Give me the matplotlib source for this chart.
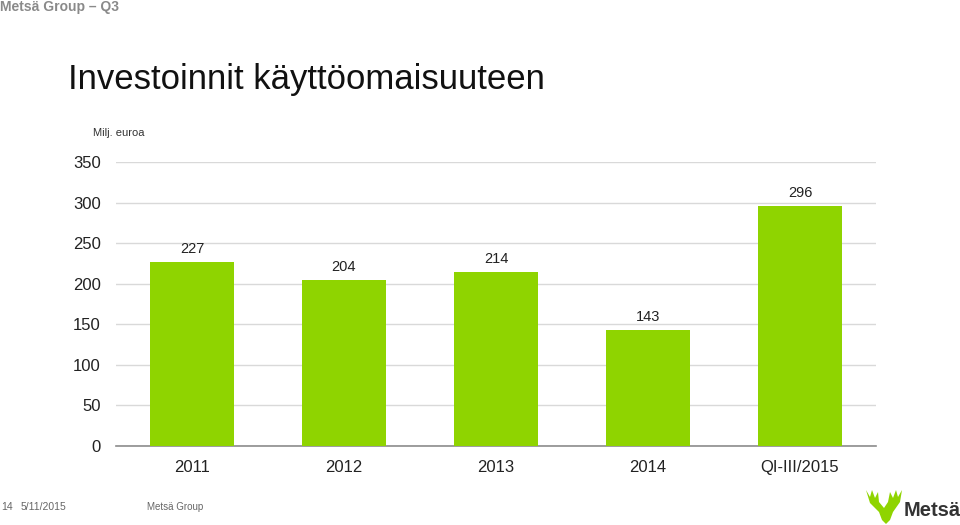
import matplotlib
matplotlib.use("Agg")
import matplotlib.pyplot as plt
from matplotlib.patches import Polygon

plt.rcParams['font.family'] = ['Liberation Sans', 'DejaVu Sans']

categories = ["2011", "2012", "2013", "2014", "QI-III/2015"]
values = [227, 204, 214, 143, 296]
yticks = [0, 50, 100, 150, 200, 250, 300, 350]

bar_color = "#8fd400"

fig = plt.figure(figsize=(9.6, 5.25), dpi=100)
ax = fig.add_axes([116/960, 1-446/525, 760/960, 284/525])

x = list(range(len(categories)))
ax.bar(x, values, width=0.55, color=bar_color, zorder=3)
ax.set_xlim(-0.5, len(categories)-0.5)
ax.set_ylim(0, 350)
ax.set_yticks(yticks)
ax.set_yticklabels([str(v) for v in yticks], fontsize=12, color="#222222")
ax.set_xticks(x)
ax.set_xticklabels(categories, fontsize=12, color="#222222")
ax.tick_params(axis='both', length=0)
ax.tick_params(axis='y', pad=11)
ax.tick_params(axis='x', pad=10)
ax.grid(axis='y', color="#d9d9d9", linewidth=1, zorder=0)
for s in ['top', 'right', 'left']:
    ax.spines[s].set_visible(False)
ax.spines['bottom'].set_color("#8c8c8c")
ax.spines['bottom'].set_linewidth(1.2)

for xi, v in zip(x, values):
    ax.annotate(str(v), (xi, v), xytext=(0, 4.5), textcoords='offset points',
                ha='center', va='bottom', fontsize=10.5, color="#222222")

# Texts
fig.text(68/960, 1-80/525, "Investoinnit käyttöomaisuuteen", fontsize=25,
         color="#111111", ha='left', va='center')
fig.text(93/960, 1-133/525, "Milj. euroa", fontsize=8, color="#333333",
         ha='left', va='center')
fig.text(0, 1-7/525, "Metsä Group – Q3", fontsize=10, fontweight='bold',
         color="#8a8a8a", ha='left', va='center')
fig.text(1/960, 1-507/525, "14", fontsize=7.5, color="#666666", ha='left', va='center')
fig.text(21/960, 1-507/525, "5/11/2015", fontsize=7.5, color="#666666", ha='left', va='center')
fig.text(147/960, 1-507/525, "Metsä Group", fontsize=7, color="#666666", ha='left', va='center')

# Logo
fig.text(904/960, 1-510/525, "Metsä", fontsize=14.5, fontweight='bold',
         color="#333333", ha='left', va='center')

def px(xp, yp):
    return (xp/960, 1-yp/525)

antler = [
    (866, 490), (870, 497), (872, 490), (875, 498), (878, 492), (879, 502),
    (884, 508), (888, 502), (890, 492), (893, 498), (896, 490), (898, 497),
    (902, 490), (900, 502), (893, 512), (890, 520), (886, 524), (882, 520),
    (879, 512), (870, 503),
]
fig.patches.append(Polygon([px(a, b) for a, b in antler], closed=True,
                           transform=fig.transFigure, facecolor=bar_color,
                           edgecolor='none'))

fig.savefig("out.png", dpi=100)
